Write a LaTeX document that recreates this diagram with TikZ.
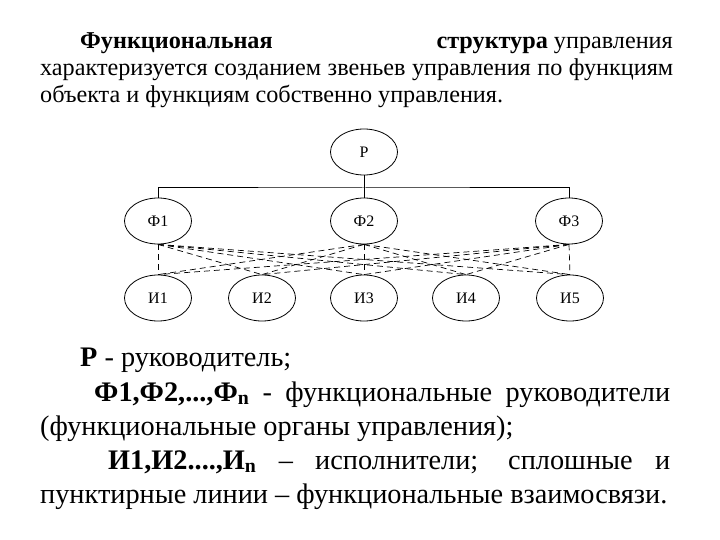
\documentclass[tikz,border=0pt]{standalone}
\usepackage{fontspec}
\setmainfont{Liberation Serif}
\usetikzlibrary{shapes.geometric}
\begin{document}
\begin{tikzpicture}[x=1pt,y=-1pt,
  el/.style={draw, ellipse, minimum width=67pt, minimum height=46pt, inner sep=0pt,
    font=\fontsize{16}{18}\selectfont, line width=0.8pt},
  dl/.style={dash pattern=on 6pt off 4pt, line width=0.7pt},
  sl/.style={line width=1pt},
  txt/.style={anchor=base west, inner sep=0pt},
  toptext/.style={txt, font=\fontsize{24.2}{27}\selectfont},
  bottext/.style={txt, font=\fontsize{28.3}{34}\selectfont}]
\useasboundingbox (0,0) rectangle (720,540);

% top paragraph
\node[toptext] (t1a) at (80,49) {\bfseries Функциональная};
\node[toptext, anchor=base east] (t1b) at (673,49) {\textbf{структура} управления};
\node[toptext] (t2) at (40,76) {\makebox[633pt][s]{характеризуется созданием звеньев управления по функциям}};
\node[toptext] (t3) at (40,103) {объекта и функциям собственно управления.};

% nodes
\node[el] (P)  at (364,152) {Р};
\node[el] (F1) at (158,221) {Ф1};
\node[el] (F2) at (364,221) {Ф2};
\node[el] (F3) at (569,221) {Ф3};
\node[el] (I1) at (158,298) {И1};
\node[el] (I2) at (262,298) {И2};
\node[el] (I3) at (364,298) {И3};
\node[el] (I4) at (466,298) {И4};
\node[el] (I5) at (570,298) {И5};

% solid connectors
\coordinate (bar) at (364,188);
\draw[sl] (P.south) -- (bar);
\draw[sl] (F1.north) |- (bar) -| (F3.north);
\draw[sl] (bar) -- (F2.north);

% dashed connectors
\foreach \f in {F1,F2,F3}
  \foreach \i in {I1,I2,I3,I4,I5}
    \draw[dl] (\f.south) -- (\i.north);

% bottom legend
\node[bottext] (b1) at (80,366) {\textbf{Р} - руководитель;};
\node[bottext] (b2) at (94,401) {\makebox[576pt][s]{\textbf{Ф1,Ф2,...,Ф\textsubscript{n}} - функциональные руководители}};
\node[bottext] (b3) at (40,435) {(функциональные органы управления);};
\node[bottext] (b4) at (108,469) {\makebox[562pt][s]{\textbf{И1,И2....,И\textsubscript{n}} – исполнители; сплошные и}};
\node[bottext] (b5) at (40,503) {пунктирные линии – функциональные взаимосвязи.};
\end{tikzpicture}
\end{document}
